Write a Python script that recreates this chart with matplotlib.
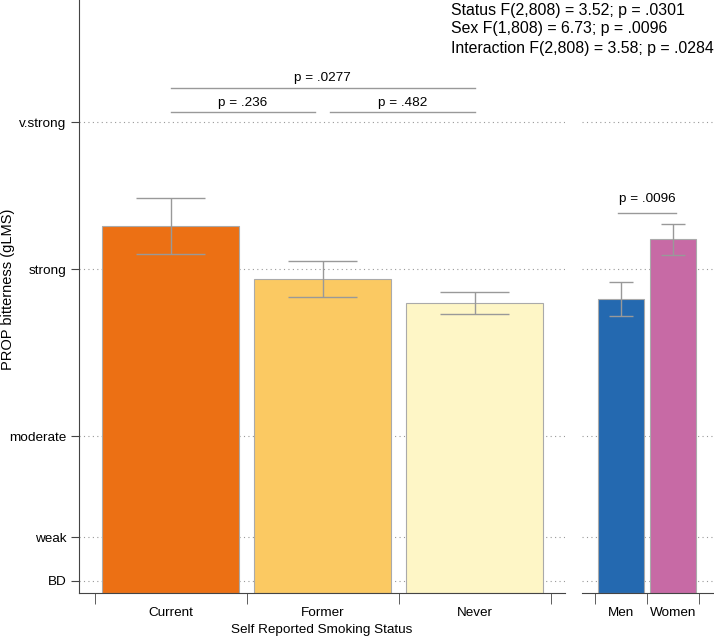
import matplotlib.pyplot as plt

plt.rcParams['font.family'] = ['Liberation Sans', 'DejaVu Sans']

# y positions of the gLMS labels (plot units)
ytick_vals = [1.37, 6.2, 17.4, 36.0, 52.3]
ytick_labels = ['BD', 'weak', 'moderate', 'strong', 'v.strong']

status = ['Current', 'Former', 'Never']
status_mean = [40.8, 34.9, 32.2]
status_err = [3.1, 1.95, 1.2]
status_colors = ['#EC7014', '#FBC962', '#FEF6C6']

sex = ['Men', 'Women']
sex_mean = [32.7, 39.3]
sex_err = [1.9, 1.75]
sex_colors = ['#2469B0', '#C76AA5']

header = ['Status F(2,808) = 3.52; p = .0301',
          'Sex F(1,808) = 6.73; p = .0096',
          'Interaction F(2,808) = 3.58; p = .0284']

W, H = 714, 639
fig = plt.figure(figsize=(W / 100, H / 100), dpi=100)
ax1 = fig.add_axes([79 / W, 46 / H, 486 / W, 593 / H])
ax2 = fig.add_axes([582 / W, 46 / H, 132 / W, 593 / H], sharey=ax1)

grey = '#999999'
spine_col = '#444444'
fs = 9.7


def draw_group(ax, labels, means, errs, colors):
    x = list(range(len(labels)))
    ax.bar(x, means, width=0.9, color=colors, edgecolor='#aaaaaa', linewidth=0.8, zorder=2)
    for xi, m, e in zip(x, means, errs):
        ax.vlines(xi, m - e, m + e, color=grey, linewidth=1, zorder=3)
        ax.hlines([m - e, m + e], xi - 0.225, xi + 0.225, color=grey, linewidth=1, zorder=3)
    ax.set_xticks(x)
    ax.set_xticklabels(labels, fontsize=fs)
    ax.set_xticks([i - 0.5 for i in range(len(labels) + 1)], minor=True)
    ax.tick_params(axis='x', which='major', length=0, pad=10)
    ax.tick_params(axis='x', which='minor', length=8, color=spine_col)
    ax.yaxis.grid(True, linestyle=(0, (1, 3)), color=grey, linewidth=0.8, zorder=0)
    ax.set_axisbelow(True)
    for s in ['top', 'right']:
        ax.spines[s].set_visible(False)
    ax.spines['bottom'].set_color(spine_col)
    ax.spines['left'].set_color(spine_col)


def bracket(ax, x0, x1, y, text, ty):
    ax.plot([x0, x1], [y, y], color=grey, linewidth=1, zorder=3)
    ax.text((x0 + x1) / 2, ty, text, ha='center', va='center', fontsize=fs)


draw_group(ax1, status, status_mean, status_err, status_colors)
draw_group(ax2, sex, sex_mean, sex_err, sex_colors)

ax1.set_xlim(-0.602, 2.595)
ax2.set_xlim(-0.75, 1.79)
ax1.set_ylim(0, 65.9)
ax1.set_yticks(ytick_vals)
ax1.set_yticklabels(ytick_labels, fontsize=fs)
ax1.tick_params(axis='y', length=6, pad=3, color=spine_col)
ax2.tick_params(axis='y', length=0, labelleft=False)
ax2.spines['left'].set_visible(False)

# axis titles placed in figure pixels
fig.text(8 / W, 1 - 289 / H, 'PROP bitterness (gLMS)', rotation=90,
         ha='center', va='center', fontsize=10.5)
fig.text(322 / W, 1 - 630 / H, 'Self Reported Smoking Status',
         ha='center', va='center', fontsize=fs)

bracket(ax1, 0, 2, 56.1, 'p = .0277', 57.2)
bracket(ax1, 0, 0.95, 53.5, 'p = .236', 54.5)
bracket(ax1, 1.05, 2, 53.5, 'p = .482', 54.5)
bracket(ax2, -0.05, 1.05, 42.2, 'p = .0096', 43.8)

for i, line in enumerate(header):
    fig.text(451 / W, 1 - (10 + 19 * i) / H, line, ha='left', va='center', fontsize=11.4)

fig.savefig('out.png', dpi=100)
